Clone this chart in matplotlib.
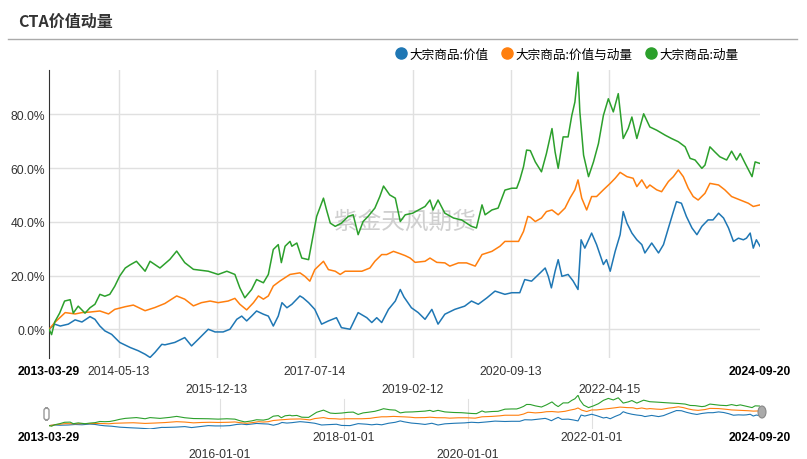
import datetime as dt
import matplotlib
matplotlib.use("Agg")
import matplotlib.pyplot as plt
from matplotlib.lines import Line2D
from matplotlib.patches import FancyBboxPatch, Ellipse

plt.rcParams['font.family'] = ['Liberation Sans', 'Noto Sans CJK SC', 'DejaVu Sans']

# === data (time as decimal year, values in %) ===
names = ['大宗商品:价值', '大宗商品:价值与动量', '大宗商品:动量']
colors = ['#1f77b4', '#ff7f0e', '#2ca02c']

blue_t = [2013.24, 2013.33, 2013.42, 2013.55, 2013.66, 2013.77, 2013.90, 2013.98, 2014.06, 2014.14,
          2014.25, 2014.38, 2014.55, 2014.68, 2014.79, 2014.87, 2014.95, 2015.06, 2015.11, 2015.27,
          2015.43, 2015.54, 2015.65, 2015.81, 2015.92, 2016.05, 2016.16, 2016.27, 2016.35, 2016.43,
          2016.51, 2016.59, 2016.70, 2016.78, 2016.86, 2016.94, 2017.00, 2017.08, 2017.16, 2017.29,
          2017.34, 2017.43, 2017.53, 2017.64, 2017.75, 2017.88, 2017.96, 2018.10, 2018.23, 2018.37,
          2018.45, 2018.53, 2018.61, 2018.72, 2018.83, 2018.91, 2018.97, 2019.09, 2019.20, 2019.31,
          2019.42, 2019.52, 2019.63, 2019.79, 2019.95, 2020.06, 2020.17, 2020.31, 2020.44, 2020.60,
          2020.71, 2020.84, 2020.92, 2021.03, 2021.17, 2021.25, 2021.30, 2021.35, 2021.41, 2021.46,
          2021.52, 2021.62, 2021.70, 2021.78, 2021.83, 2021.89, 2022.00, 2022.08, 2022.19, 2022.24,
          2022.30, 2022.38, 2022.46, 2022.51, 2022.57, 2022.65, 2022.73, 2022.81, 2022.86, 2022.97,
          2023.08, 2023.16, 2023.24, 2023.32, 2023.37, 2023.45, 2023.53, 2023.62, 2023.70, 2023.78,
          2023.88, 2023.96, 2024.05, 2024.13, 2024.21, 2024.29, 2024.37, 2024.45, 2024.50, 2024.56,
          2024.61, 2024.66, 2024.719]
blue_v = [0, 1.9, 1.2, 1.9, 3.5, 2.7, 4.7, 3.7, 1.2, -0.6,
          -1.9, -4.9, -6.8, -8, -9.3, -10.5, -8.6, -5.6, -5.8, -4.9,
          -3.1, -6.2, -3.7, 0, -1, -1, 0, 3.7, 4.9, 3.1,
          4.9, 6.8, 5.6, 4.9, 1.2, 4.9, 9.9, 8, 9.3, 12.4,
          11.7, 9.9, 7.4, 1.9, 3.1, 4.3, 0.6, 0, 6.2, 4.3,
          2.5, 4.3, 2.5, 7.4, 10.5, 14.8, 12, 8, 6.2, 3.7,
          7.4, 1.9, 5.6, 7.4, 8.6, 10.5, 9.3, 11.7, 14.2, 13,
          13.6, 13.6, 18.5, 17.9, 21, 22.8, 19.7, 15.4, 21.6, 25.9,
          19.7, 20.4, 18, 14.8, 33.3, 30.2, 35.8, 31.5, 24.1, 25.9,
          21.6, 29, 35.2, 43.8, 39.5, 35.8, 33.3, 31.5, 28.4, 32.1,
          28.4, 31.5, 37.7, 43.8, 47.5, 46.9, 42, 37.7, 35.2, 38.3,
          40.7, 40.7, 43.2, 41.4, 37.7, 32.7, 33.9, 33.3, 33.9, 35.8,
          30.2, 33.3, 30.9]

orange_t = [2013.24, 2013.33, 2013.50, 2013.66, 2013.77, 2013.90, 2014.06, 2014.20, 2014.30, 2014.47,
            2014.60, 2014.79, 2014.95, 2015.11, 2015.30, 2015.43, 2015.57, 2015.70, 2015.84, 2015.97,
            2016.13, 2016.24, 2016.32, 2016.43, 2016.54, 2016.62, 2016.70, 2016.78, 2016.86, 2016.97,
            2017.05, 2017.13, 2017.29, 2017.37, 2017.45, 2017.53, 2017.67, 2017.75, 2017.86, 2017.94,
            2018.02, 2018.18, 2018.29, 2018.42, 2018.50, 2018.61, 2018.69, 2018.80, 2018.91, 2018.99,
            2019.07, 2019.15, 2019.31, 2019.39, 2019.50, 2019.63, 2019.71, 2019.85, 2019.98, 2020.12,
            2020.23, 2020.39, 2020.52, 2020.60, 2020.71, 2020.82, 2020.90, 2020.97, 2021.01, 2021.09,
            2021.19, 2021.27, 2021.36, 2021.46, 2021.57, 2021.65, 2021.73, 2021.78, 2021.84, 2021.92,
            2022.00, 2022.08, 2022.19, 2022.30, 2022.38, 2022.46, 2022.57, 2022.67, 2022.73, 2022.81,
            2022.89, 2022.94, 2023.05, 2023.13, 2023.24, 2023.32, 2023.40, 2023.48, 2023.56, 2023.64,
            2023.72, 2023.83, 2023.91, 2024.05, 2024.15, 2024.26, 2024.40, 2024.53, 2024.61, 2024.719]
orange_v = [0, 2.5, 6.2, 5.7, 6.2, 6.4, 6.8, 5.7, 7.4, 8.4,
            9, 6.9, 8.1, 9.6, 12.4, 11.2, 8.7, 9.9, 10.5, 9.9,
            10.5, 11.5, 9.3, 7.2, 9.9, 12.4, 11.2, 12.4, 16.1, 18,
            19.2, 20.4, 21, 19.7, 17.9, 22.2, 25.3, 22.2, 21.6, 20.4,
            21.6, 21.6, 21.6, 22.8, 25.3, 27.8, 27.8, 29, 28.1, 27.4,
            26.5, 24.9, 25.3, 26.5, 24.9, 24.7, 23.5, 24.7, 24.7, 23.5,
            27.8, 29, 30.9, 32.7, 32.7, 32.7, 36.4, 42, 41.7, 40.1,
            41.4, 43.8, 44.4, 42.6, 45.1, 48.8, 51.9, 55.6, 48.8, 44.4,
            49.4, 49.4, 51.9, 54.3, 56.2, 58.4, 56.8, 56.2, 53.1, 55.6,
            52.5, 53.7, 51.9, 51.2, 55, 56.8, 59.3, 56.8, 52.5, 49.4,
            48.1, 50.6, 54.3, 53.7, 51.9, 49.4, 48.1, 46.9, 45.7, 46.3]

green_t = [2013.24, 2013.28, 2013.33, 2013.41, 2013.49, 2013.58, 2013.63, 2013.71, 2013.82, 2013.90,
           2013.98, 2014.06, 2014.14, 2014.22, 2014.30, 2014.38, 2014.47, 2014.55, 2014.65, 2014.79,
           2014.87, 2015.03, 2015.19, 2015.30, 2015.43, 2015.57, 2015.81, 2015.97, 2016.11, 2016.24,
           2016.32, 2016.40, 2016.51, 2016.59, 2016.70, 2016.78, 2016.86, 2016.94, 2016.99, 2017.05,
           2017.13, 2017.16, 2017.24, 2017.32, 2017.43, 2017.48, 2017.56, 2017.67, 2017.72, 2017.78,
           2017.86, 2017.96, 2018.07, 2018.15, 2018.23, 2018.31, 2018.39, 2018.50, 2018.58, 2018.64,
           2018.74, 2018.83, 2018.91, 2018.99, 2019.11, 2019.31, 2019.39, 2019.44, 2019.52, 2019.63,
           2019.77, 2019.90, 2020.06, 2020.14, 2020.23, 2020.28, 2020.39, 2020.49, 2020.60, 2020.71,
           2020.79, 2020.84, 2020.90, 2020.95, 2021.01, 2021.09, 2021.19, 2021.27, 2021.36, 2021.41,
           2021.46, 2021.54, 2021.62, 2021.68, 2021.73, 2021.78, 2021.81, 2021.87, 2021.95, 2022.03,
           2022.11, 2022.19, 2022.27, 2022.35, 2022.43, 2022.51, 2022.59, 2022.65, 2022.73, 2022.84,
           2022.94, 2023.05, 2023.19, 2023.29, 2023.40, 2023.51, 2023.59, 2023.67, 2023.78, 2023.83,
           2023.91, 2023.99, 2024.07, 2024.18, 2024.26, 2024.34, 2024.40, 2024.48, 2024.59, 2024.64,
           2024.719]
green_v = [0, -2, 2.7, 6, 10.5, 11, 6, 8.6, 6, 8,
           9.3, 13, 12.3, 13, 16, 19.8, 22.8, 24, 25.3, 21.6,
           25.3, 22.8, 26, 29.1, 24.8, 22.3, 21.6, 20.4, 21.6, 20.4,
           15.4, 11.7, 14.8, 18.5, 17.3, 20.4, 29.7, 31.5, 24.8, 30.9,
           32.7, 30.9, 32.1, 26.5, 25.9, 32.1, 42, 48.8, 44.4, 39.5,
           38.3, 39.5, 42, 42.6, 35.2, 40.1, 42, 45.1, 49.4, 53.3,
           50, 48.8, 40.1, 42.6, 43.2, 45.7, 48.1, 44.4, 48.1, 43.2,
           41.4, 40.7, 38.3, 37.7, 46.3, 42.6, 44.4, 45.1, 51.8, 52.5,
           52.5, 55.6, 60.5, 66.7, 66.5, 62.3, 58.6, 65.4, 74.7, 66,
           59.9, 71.6, 71.6, 79.6, 84.6, 95.7, 80.9, 64.8, 56.8, 62.3,
           69.1, 79.6, 85.8, 80.9, 87.7, 71, 74.7, 79, 71, 80.2,
           75.3, 74.1, 72.2, 71, 69.8, 67.9, 63.6, 63, 59.9, 61.1,
           67.9, 66, 64.2, 63, 66.3, 63, 65.4, 61.7, 56.8, 62.3,
           61.7]

series_t = [blue_t, orange_t, green_t]
series_v = [blue_v, orange_v, green_v]

yticks = [0, 20, 40, 60, 80]
main_row1 = ['2013-03-29', '2014-05-13', '2017-07-14', '2020-09-13', '2024-09-20']
main_row2 = ['2015-12-13', '2019-02-12', '2022-04-15']
zoom_row1 = ['2013-03-29', '2018-01-01', '2022-01-01', '2024-09-20']
zoom_row2 = ['2016-01-01', '2020-01-01']


def year_frac(s):
    d = dt.date.fromisoformat(s)
    start = dt.date(d.year, 1, 1)
    n = (dt.date(d.year + 1, 1, 1) - start).days
    return d.year + (d - start).days / n


W, H = 807, 460
fig = plt.figure(figsize=(W / 100, H / 100), dpi=100)
fig.patch.set_facecolor('white')

x0, x1 = year_frac('2013-03-29'), year_frac('2024-09-20')
ylo, yhi = -10.7, 96.5
grid_c = '#e0e0e0'
txt_c = '#333333'
fs = 8.7

# === title and rule ===
fig.text(18 / W, 1 - 22 / H, 'CTA价值动量', fontsize=11.5, fontweight='bold',
         color='#333333', family=['Noto Sans CJK SC'], ha='left', va='center')
fig.add_artist(Line2D([8 / W, 797 / W], [1 - 40 / H, 1 - 40 / H], color='#aaaaaa', lw=1))

# === main chart ===
ax = fig.add_axes([49 / W, 1 - 359 / H, 711 / W, 288 / H])
for t, v, c in zip(series_t, series_v, colors):
    ax.plot(t, v, color=c, lw=1.1, zorder=3)
ax.set_xlim(x0, x1)
ax.set_ylim(ylo, yhi)
for y in yticks:
    ax.axhline(y, color=grid_c, lw=1, zorder=0)
for s in main_row1[1:-1] + main_row2:
    ax.axvline(year_frac(s), color=grid_c, lw=1, zorder=0)
for side in ['top', 'right', 'bottom']:
    ax.spines[side].set_visible(False)
ax.spines['left'].set_color('#333333')
ax.set_yticks(yticks)
ax.set_yticklabels([f'{y:.1f}%' for y in yticks])
ax.tick_params(axis='y', length=0, pad=3, labelsize=fs, labelcolor=txt_c)
ax.set_xticks([year_frac(s) for s in main_row1])
ax.set_xticklabels(main_row1)
ax.set_xticks([year_frac(s) for s in main_row2], minor=True)
ax.set_xticklabels(main_row2, minor=True)
ax.tick_params(axis='x', which='major', length=0, pad=5, labelsize=fs, labelcolor=txt_c)
ax.tick_params(axis='x', which='minor', length=0, pad=18, labelsize=fs, labelcolor=txt_c)
labs = ax.get_xticklabels()
for lab in (labs[0], labs[-1]):
    lab.set_fontweight('bold')
    lab.set_color('black')

# watermark
ax.text(0.5, 1 - (222 - 71) / 288, '紫金天风期货', transform=ax.transAxes, fontsize=17,
        color='#cfcfcf', family=['Noto Sans CJK SC'], ha='center', va='center', zorder=1)

# === legend ===
handles = [Line2D([], [], marker='o', ls='', color=c, markersize=8) for c in colors]
fig.legend(handles, names, loc='center right', bbox_to_anchor=(744 / W, 1 - 55 / H),
           ncol=3, frameon=False, handlelength=0.8, handletextpad=0.3,
           columnspacing=1.05, borderaxespad=0, prop={'family': ['Noto Sans CJK SC'], 'size': 9.1})

# === data zoom slider ===
sax = fig.add_axes([49 / W, 1 - 430 / H, 711 / W, 34 / H])
for t, v, c in zip(series_t, series_v, colors):
    sax.plot(t, v, color=c, lw=0.8, zorder=3)
sax.set_xlim(x0, x1)
sax.set_ylim(ylo, yhi)
for s in zoom_row1[1:-1] + zoom_row2:
    sax.axvline(year_frac(s), ymin=0, ymax=0.88, color=grid_c, lw=0.8, zorder=0)
for side in sax.spines:
    sax.spines[side].set_visible(False)
sax.set_yticks([])
sax.set_xticks([year_frac(s) for s in zoom_row1])
sax.set_xticklabels(zoom_row1)
sax.set_xticks([year_frac(s) for s in zoom_row2], minor=True)
sax.set_xticklabels(zoom_row2, minor=True)
sax.tick_params(axis='x', which='major', length=0, pad=1.5, labelsize=fs, labelcolor=txt_c)
sax.tick_params(axis='x', which='minor', length=0, pad=13.5, labelsize=fs, labelcolor=txt_c)
slabs = sax.get_xticklabels()
for lab in (slabs[0], slabs[-1]):
    lab.set_fontweight('bold')
    lab.set_color('black')

# slider handles
fig.add_artist(FancyBboxPatch((44 / W, 1 - 421 / H), 5 / W, 12 / H,
                              boxstyle='round,pad=0,rounding_size=0.005',
                              fc='white', ec='#999999', lw=1))
fig.add_artist(Ellipse((762 / W, 1 - 413 / H), 8 / W, 12 / H, fc='#aaaaaa', ec='#888888', lw=0.8))

fig.savefig('out.png', dpi=100)
